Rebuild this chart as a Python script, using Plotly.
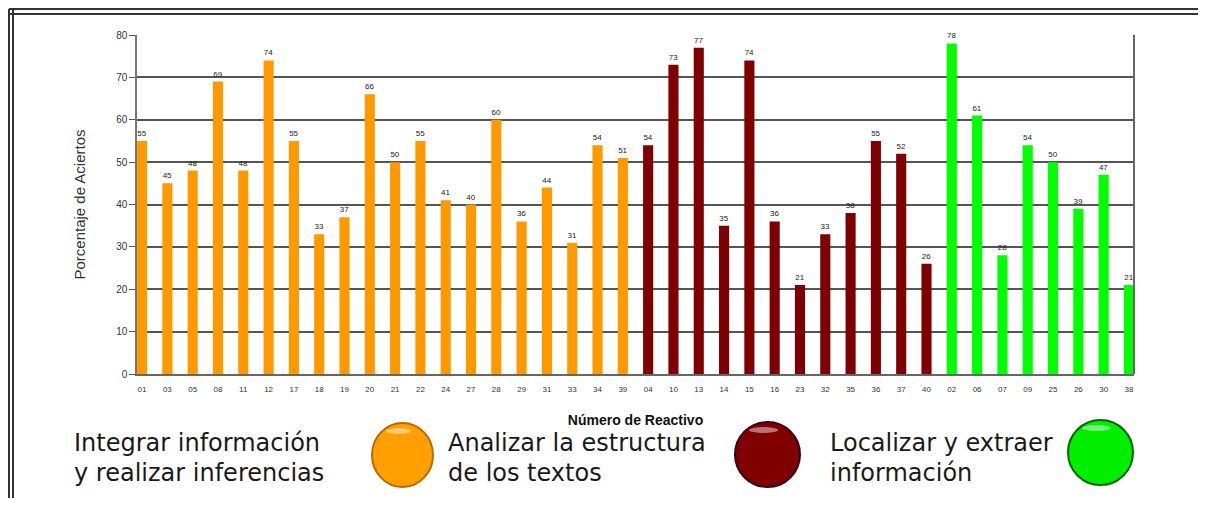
import plotly.graph_objects as go

# Data
cat_integrar = ["01","03","05","08","11","12","17","18","19","20","21","22","24","27","28","29","31","33","34","39"]
val_integrar = [55,45,48,69,48,74,55,33,37,66,50,55,41,40,60,36,44,31,54,51]
cat_analizar = ["04","10","13","14","15","16","23","32","35","36","37","40"]
val_analizar = [54,73,77,35,74,36,21,33,38,55,52,26]
cat_localizar = ["02","06","07","09","25","26","30","38"]
val_localizar = [78,61,28,54,50,39,47,21]

legend_lines = [
    ("Integrar información", "y realizar inferencias"),
    ("Analizar la estructura", "de los textos"),
    ("Localizar y extraer", "información"),
]
colors = ["#FF9900", "#7F0000", "#00FF00"]
groups = [(cat_integrar, val_integrar), (cat_analizar, val_analizar), (cat_localizar, val_localizar)]

OFF = 8  # page body margin
W, H = 1206 - 2 * OFF, 506 - 2 * OFF
# plot area in page pixels
L, R, T, B = 137, 1134, 35, 374

def px(x):
    return (x - L) / (R - L)

def py(y):
    return (B - y) / (B - T)

fig = go.Figure()
for (cats, vals), col, lines in zip(groups, colors, legend_lines):
    fig.add_trace(go.Bar(
        x=cats, y=vals, name=" ".join(lines),
        marker=dict(color=col, line=dict(width=0)),
        width=0.4,
        text=[str(v) for v in vals], textposition="outside",
        textfont=dict(size=8, color="#222", family="Liberation Sans"),
        cliponaxis=False,
    ))

fig.update_layout(
    width=W, height=H,
    margin=dict(l=L - OFF, r=(1206 - OFF) - R, t=T - OFF, b=(506 - OFF) - B),
    paper_bgcolor="white", plot_bgcolor="white",
    barmode="overlay",
    showlegend=False,
    font=dict(family="Liberation Sans", color="#222"),
    uniformtext=dict(minsize=7, mode="show"),
)
n = len(cat_integrar) + len(cat_analizar) + len(cat_localizar)
fig.update_xaxes(
    type="category", range=[-0.2, n - 1 + 0.2],
    tickfont=dict(size=8, color="#333"),
    showline=True, linecolor="#666", linewidth=2,
    ticks="", ticklabelstandoff=6,
    title=dict(text="<b>Número de Reactivo</b>", font=dict(size=14, color="#111"), standoff=23),
)
fig.update_yaxes(
    range=[0, 80], dtick=10,
    tickfont=dict(size=10, color="#333"),
    showgrid=True, gridcolor="#555", gridwidth=1.5,
    showline=True, linecolor="#777", linewidth=1.5,
    ticks="outside", ticklen=6, tickcolor="#555",
    title=dict(text="Porcentaje de Aciertos", font=dict(size=15, color="#333"), standoff=27),
    zeroline=False,
)

shapes = []
# right border of plot area
shapes.append(dict(type="line", xref="paper", yref="paper", x0=1, x1=1, y0=0, y1=1,
                   line=dict(color="#666", width=2)))
# outer frame (double lines)
for yy in (9, 14):
    shapes.append(dict(type="line", xref="paper", yref="paper", x0=px(9), x1=px(1206), y0=py(yy), y1=py(yy),
                       line=dict(color="#333", width=2)))
for xx in (9, 13):
    shapes.append(dict(type="line", xref="paper", yref="paper", x0=px(xx), x1=px(xx), y0=py(9), y1=py(506),
                       line=dict(color="#333", width=2)))
shapes.append(dict(type="line", xref="paper", yref="paper", x0=px(13), x1=px(1206), y0=py(499), y1=py(499),
                   line=dict(color="#bbb", width=1.5)))

# legend circles
circles = [(372, 433, 423, 487, "#FF9F00", "#B86A00"),
           (735, 800, 422, 487, "#800000", "#3a0020"),
           (1068, 1133, 420, 485, "#00EE00", "#006600")]
for x0, x1, y0, y1, fill, edge in circles:
    shapes.append(dict(type="circle", xref="paper", yref="paper",
                       x0=px(x0), x1=px(x1), y0=py(y1), y1=py(y0),
                       fillcolor=fill, line=dict(color=edge, width=2)))
    shapes.append(dict(type="circle", xref="paper", yref="paper",
                       x0=px(x0 + 14), x1=px(x1 - 22), y0=py(y0 + 11), y1=py(y0 + 5),
                       fillcolor="rgba(255,255,255,0.45)", line=dict(width=0)))
fig.update_layout(shapes=shapes)

legend_pos = [73, 447, 829]
for lines, lx in zip(legend_lines, legend_pos):
    for line, ly, anchor in zip(lines, (458, 458), ("bottom", "top")):
        fig.add_annotation(xref="paper", yref="paper", x=px(lx), y=py(ly),
                           xanchor="left", yanchor=anchor, showarrow=False, align="left",
                           borderpad=0,
                           text=line, font=dict(family="DejaVu Sans", size=24, color="#1a1a1a"))

fig.write_html("out.html")
